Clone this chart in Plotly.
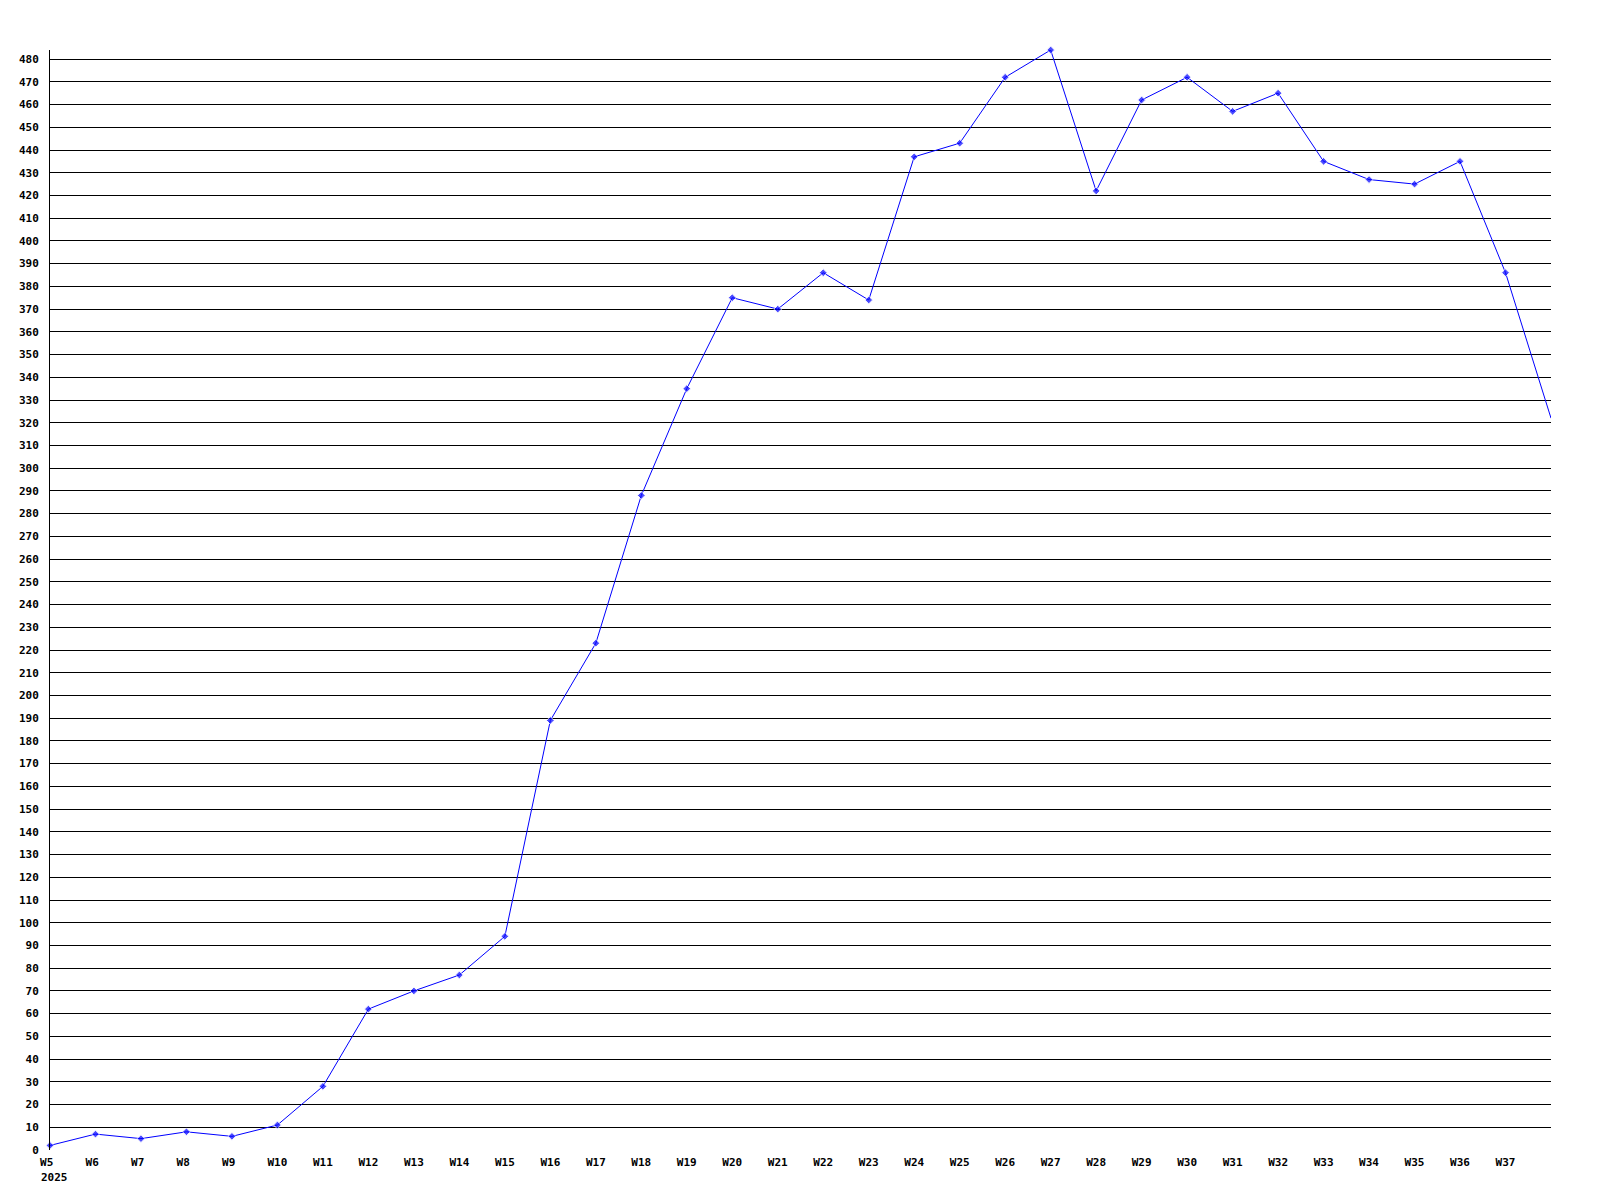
import plotly.graph_objects as go

weeks = ["W5", "W6", "W7", "W8", "W9", "W10", "W11", "W12", "W13", "W14", "W15", "W16",
         "W17", "W18", "W19", "W20", "W21", "W22", "W23", "W24", "W25", "W26", "W27", "W28",
         "W29", "W30", "W31", "W32", "W33", "W34", "W35", "W36", "W37", "W38"]
values = [2, 7, 5, 8, 6, 11, 28, 62, 70, 77, 94, 189,
          223, 288, 335, 375, 370, 386, 374, 437, 443, 472, 484, 422,
          462, 472, 457, 465, 435, 427, 425, 435, 386, 322]
year_label = "2025"
labeled_weeks = weeks[:-1]

x = list(range(len(values)))
sizes = [6] * (len(values) - 1) + [0]
# labels are left-aligned a little before each point: pad to equal width (monospace)
tick_text = [w.ljust(3, "\u00a0") for w in labeled_weeks]

font = dict(family="DejaVu Sans Mono", size=11, color="black", weight="bold")

fig = go.Figure()
fig.add_trace(go.Scatter(
    x=x, y=values, mode="lines+markers",
    line=dict(color="#0000ff", width=1),
    marker=dict(symbol="diamond", size=sizes, color="#0000ff"),
    cliponaxis=False,
    hoverinfo="x+y",
))

fig.update_layout(
    width=1592, height=1192,
    margin=dict(l=42, r=49, t=42, b=50, autoexpand=False),
    paper_bgcolor="white", plot_bgcolor="white",
    showlegend=False,
    font=font,
    xaxis=dict(
        range=[0, len(values) - 1],
        tickvals=list(range(len(labeled_weeks))),
        ticktext=tick_text,
        showgrid=False, zeroline=False,
        showline=False, ticks="",
        tickfont=font,
        ticklabelstandoff=4,
        automargin=False,
    ),
    yaxis=dict(
        range=[0, max(values)],
        tick0=0, dtick=10,
        showgrid=True, gridcolor="black", gridwidth=1,
        zeroline=False,
        showline=True, linecolor="black", linewidth=1,
        ticks="", tickfont=font,
        ticklabelstandoff=8,
        automargin=False,
    ),
    annotations=[dict(
        x=0, y=0, xref="x", yref="paper", text=year_label,
        showarrow=False, xanchor="left", yanchor="top",
        xshift=-11, yshift=-19, font=font,
    )],
)

fig.write_html("out.html")
